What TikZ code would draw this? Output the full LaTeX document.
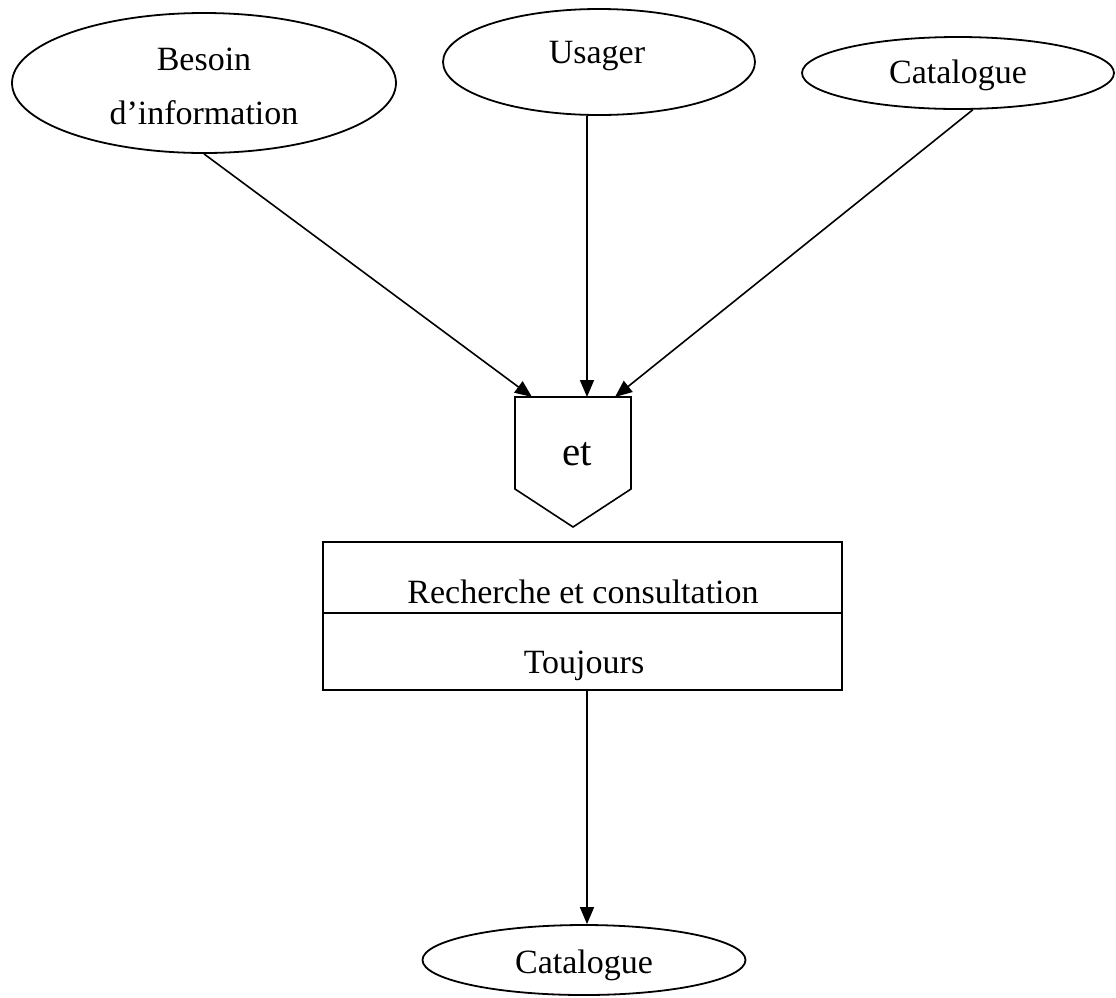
\documentclass[tikz,border=0pt]{standalone}
\usepackage{fontspec}
\setmainfont{Liberation Serif}
\usetikzlibrary{arrows.meta,shapes.geometric}
\tikzset{
  txt/.style={font=\fontsize{34}{40}\selectfont, inner sep=0pt, anchor=base},
  oval/.style={draw, ellipse, inner sep=0pt, line width=1.8pt},
  flow/.style={-{Triangle[length=17pt,width=14pt]}},
}
\begin{document}
\begin{tikzpicture}[x=1pt,y=-1pt,line width=1.6pt]
\useasboundingbox (0,0) rectangle (1116,997);

% input resources
\node[oval, minimum width=384pt, minimum height=140pt] (need) at (204,83) {};
\node[txt] (needA) at (204,70) {Besoin};
\node[txt] (needB) at (204,124) {d’information};

\node[oval, minimum width=312pt, minimum height=106pt] (user) at (599,62) {};
\node[txt] (userT) at (597,63) {Usager};

\node[oval, minimum width=312pt, minimum height=72pt] (cat) at (958,73) {};
\node[txt] (catT) at (958,83) {Catalogue};

% "and" junction
\coordinate (pTL) at (515,397);
\coordinate (pTR) at (631,397);
\coordinate (pBR) at (631,489);
\coordinate (pTip) at (573,527);
\coordinate (pBL) at (515,489);
\draw (pTL) -- (pTR) -- (pBR) -- (pTip) -- (pBL) -- cycle;
\node[txt, font=\fontsize{41}{48}\selectfont] (et) at (577,465) {et};
\coordinate (inA) at (532,397);
\coordinate (inB) at (587,397);
\coordinate (inC) at (615,397);

% task box
\node[draw, minimum width=519pt, minimum height=148pt, inner sep=0pt] (task) at (582.5,616) {};
\coordinate (divL) at (323,613);
\coordinate (divR) at (842,613);
\draw (divL) -- (divR);
\node[txt] (taskname) at (583,603) {Recherche et consultation};
\node[txt] (freq) at (584,673) {Toujours};
\coordinate (taskOut) at (587,690);

% output resource
\node[oval, minimum width=323pt, minimum height=70pt] (result) at (584,960) {};
\node[txt] (resultT) at (584,973) {Catalogue};

% connectors
\draw[flow] (need.south) -- (inA);
\draw[flow] (user.south -| inB) -- (inB);
\draw[flow] (cat.-68) -- (inC);
\draw[flow] (taskOut) -- (taskOut |- result.north);
\end{tikzpicture}
\end{document}
